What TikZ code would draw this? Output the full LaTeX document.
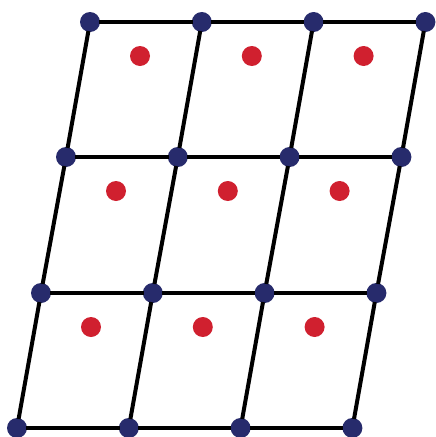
\documentclass[tikz,border=0pt]{standalone}
\definecolor{nodeblue}{HTML}{272B6C}
\definecolor{dotred}{HTML}{D0202F}
\begin{document}
\begin{tikzpicture}[x=1pt,y=-1pt,
  lat/.style={circle,fill=nodeblue,inner sep=0pt,minimum size=20pt},
  cen/.style={circle,fill=dotred,inner sep=0pt,minimum size=20pt},
  edge/.style={line width=4pt,black,shorten <=-1pt,shorten >=-1pt}]
\useasboundingbox (0,0) rectangle (436,437);
\foreach \r/\y/\x in {0/22/90,1/157/66,2/293/41,3/428/17}{
  \foreach \c in {0,1,2,3}{
    \node[lat] (n\r\c) at ({\x+111.8*\c},\y) {};
  }
}
\foreach \r in {0,1,2,3}{
  \draw[edge] (n\r0) -- (n\r1);
  \draw[edge] (n\r1) -- (n\r2);
  \draw[edge] (n\r2) -- (n\r3);
}
\foreach \c in {0,1,2,3}{
  \draw[edge] (n0\c) -- (n1\c);
  \draw[edge] (n1\c) -- (n2\c);
  \draw[edge] (n2\c) -- (n3\c);
}
\foreach \r/\y/\x in {0/56/140,1/191/116,2/327/91}{
  \foreach \c in {0,1,2}{
    \node[cen] (d\r\c) at ({\x+111.8*\c},\y) {};
  }
}
\end{tikzpicture}
\end{document}
